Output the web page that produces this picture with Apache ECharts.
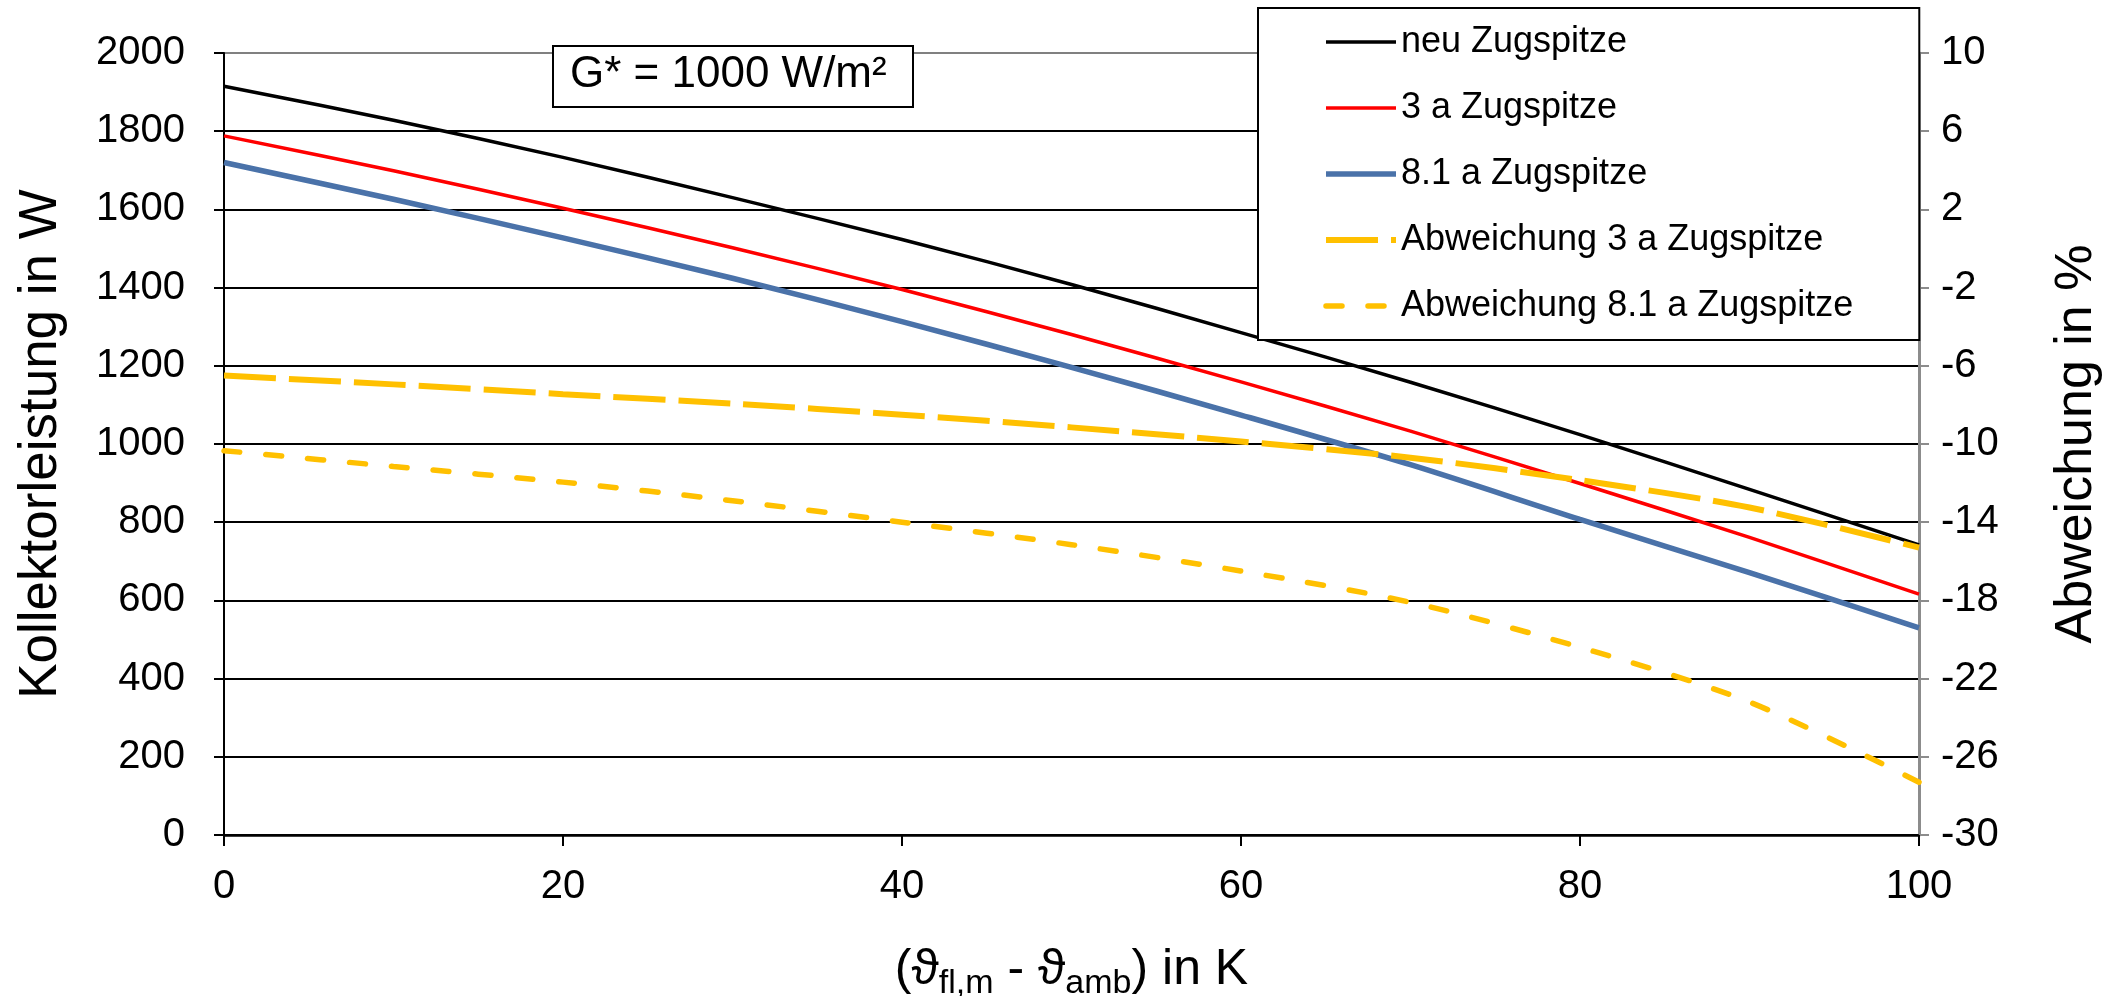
<!DOCTYPE html>
<html>
<head>
<meta charset="utf-8">
<title>Kollektorleistung Zugspitze</title>
<script src="https://cdn.jsdelivr.net/npm/echarts@6/dist/echarts.min.js"></script>
<style>
  html, body { margin: 0; padding: 0; background: #fff; }
  #chart { width: 2117px; height: 996px; }
</style>
</head>
<body>
<div id="chart"></div>
<script>
// Temperature difference (fluid mean minus ambient) in K
const xValues = [0, 10, 20, 30, 40, 50, 60, 70, 80, 90, 100];

// Collector output in W
const neuZugspitze = [1915, 1828, 1733, 1630, 1523, 1408, 1285, 1158, 1024, 884, 742];
const dreiAZugspitze = [1788, 1699, 1603, 1502, 1395, 1280, 1159, 1033, 899, 761, 616];
const achtEinsAZugspitze = [1720, 1626, 1527, 1424, 1313, 1196, 1074, 947, 807, 671, 530];

// Deviation from the new collector in %
const abweichung3a = [-6.5, -6.95, -7.45, -7.93, -8.5, -9.15, -9.87, -10.7, -11.85, -13.25, -15.3];
const abweichung81a = [-10.34, -11.15, -11.95, -12.9, -14.0, -15.15, -16.5, -18.1, -20.4, -23.2, -27.3];

const seriesNames = [
  'neu Zugspitze',
  '3 a Zugspitze',
  '8.1 a Zugspitze',
  'Abweichung 3 a Zugspitze',
  'Abweichung 8.1 a Zugspitze'
];

const FONT = '"Liberation Sans", Arial, Helvetica, sans-serif';

function pairs(ys) {
  return xValues.map((x, i) => [x, ys[i]]);
}

// Plain numbers, no thousands separator
const plain = (v) => String(v);

// Gridlines are black, except the top one at 2000 which is grey
const gridColors = ['#000', '#000', '#000', '#000', '#000', '#000', '#000', '#000', '#000', '#000', '#808080'];

const chart = echarts.init(document.getElementById('chart'), null, { renderer: 'canvas' });

chart.setOption({
  animation: false,
  backgroundColor: '#ffffff',
  textStyle: { fontFamily: FONT, color: '#000' },
  grid: { left: 224, right: 198, top: 53, bottom: 161, containLabel: false, outerBoundsMode: 'none' },
  xAxis: {
    type: 'value',
    min: 0,
    max: 100,
    interval: 20,
    name: '{p|(}{v|ϑ}{s|fl,m}{p| - }{v|ϑ}{s|amb}{p|) in K}',
    nameLocation: 'middle',
    nameGap: 104,
    nameTextStyle: {
      rich: {
        p: { fontSize: 50, fontFamily: FONT, color: '#000', lineHeight: 62, verticalAlign: 'middle' },
        v: { fontSize: 50, fontFamily: FONT, color: '#000', lineHeight: 62, verticalAlign: 'middle' },
        s: { fontSize: 34, fontFamily: FONT, color: '#000', lineHeight: 34, verticalAlign: 'bottom' }
      }
    },
    axisLine: { show: true, onZero: false, lineStyle: { color: '#000', width: 2.5 } },
    axisTick: { show: true, inside: false, length: 11, lineStyle: { color: '#000', width: 2 } },
    axisLabel: { fontSize: 40, color: '#000', fontFamily: FONT, margin: 32, formatter: plain },
    splitLine: { show: false }
  },
  yAxis: [
    {
      type: 'value',
      position: 'left',
      min: 0,
      max: 2000,
      interval: 200,
      name: 'Kollektorleistung in W',
      nameLocation: 'middle',
      nameRotate: 90,
      nameGap: 156,
      nameTextStyle: { fontSize: 53, fontFamily: FONT, color: '#000' },
      axisLine: { show: true, lineStyle: { color: '#000', width: 2 } },
      axisTick: { show: true, inside: false, length: 10, lineStyle: { color: '#000', width: 2 } },
      axisLabel: { fontSize: 40, color: '#000', fontFamily: FONT, margin: 39, formatter: plain },
      splitLine: { show: true, lineStyle: { color: gridColors, width: 2 } }
    },
    {
      type: 'value',
      position: 'right',
      min: -30,
      max: 10,
      interval: 4,
      name: 'Abweichung in %',
      nameLocation: 'middle',
      nameRotate: 90,
      nameGap: 132,
      nameTextStyle: { fontSize: 52, fontFamily: FONT, color: '#000' },
      axisLine: { show: true, lineStyle: { color: '#8c8c8c', width: 3 } },
      axisTick: { show: true, inside: false, length: 10, lineStyle: { color: '#8c8c8c', width: 2 } },
      axisLabel: { fontSize: 40, color: '#000', fontFamily: FONT, margin: 22, formatter: plain },
      splitLine: { show: false }
    }
  ],
  legend: {
    orient: 'vertical',
    left: 1258,
    top: 8,
    padding: [14, 66, 14, 65],
    itemGap: 26,
    itemWidth: 70,
    itemHeight: 14,
    backgroundColor: '#ffffff',
    borderColor: '#000',
    borderWidth: 2,
    // line-only keys: hide the marker dot and keep the series stroke width
    itemStyle: { opacity: 0 },
    lineStyle: { width: 'inherit', type: 'inherit', cap: 'inherit' },
    textStyle: { fontSize: 36, fontFamily: FONT, color: '#000', lineHeight: 40 },
    data: seriesNames
  },
  graphic: [
    {
      type: 'rect',
      left: 552,
      top: 45,
      shape: { width: 360, height: 61 },
      style: { fill: '#ffffff', stroke: '#000', lineWidth: 2 },
      z: 10
    },
    {
      type: 'text',
      left: 570,
      top: 53,
      style: { text: 'G* = 1000 W/m²', font: '44px ' + FONT, fill: '#000' },
      z: 11
    }
  ],
  series: [
    {
      name: seriesNames[0],
      type: 'line',
      yAxisIndex: 0,
      data: pairs(neuZugspitze),
      smooth: 0.3,
      symbol: 'none',
      lineStyle: { color: '#000000', width: 3.5 },
      itemStyle: { color: '#000000' }
    },
    {
      name: seriesNames[1],
      type: 'line',
      yAxisIndex: 0,
      data: pairs(dreiAZugspitze),
      smooth: 0.3,
      symbol: 'none',
      lineStyle: { color: '#ff0000', width: 3.5 },
      itemStyle: { color: '#ff0000' }
    },
    {
      name: seriesNames[2],
      type: 'line',
      yAxisIndex: 0,
      data: pairs(achtEinsAZugspitze),
      smooth: 0.3,
      symbol: 'none',
      lineStyle: { color: '#4a72a9', width: 5.5 },
      itemStyle: { color: '#4a72a9' }
    },
    {
      name: seriesNames[3],
      type: 'line',
      yAxisIndex: 1,
      data: pairs(abweichung3a),
      smooth: 0.3,
      symbol: 'none',
      lineStyle: { color: '#ffc000', width: 6, type: [52, 13], cap: 'butt' },
      itemStyle: { color: '#ffc000' }
    },
    {
      name: seriesNames[4],
      type: 'line',
      yAxisIndex: 1,
      data: pairs(abweichung81a),
      smooth: 0.3,
      symbol: 'none',
      lineStyle: { color: '#ffc000', width: 5.5, type: [16, 26], cap: 'round' },
      itemStyle: { color: '#ffc000' }
    }
  ]
});
</script>
</body>
</html>
